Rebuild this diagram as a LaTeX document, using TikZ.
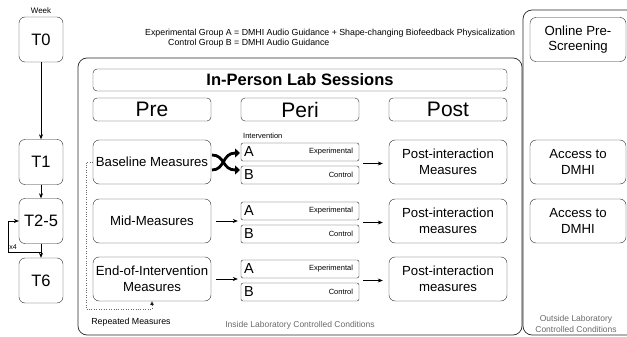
\documentclass[tikz,border=0pt]{standalone}
\usepackage{fontspec}
\setmainfont{Liberation Sans}
\usepackage{xcolor}
\usetikzlibrary{arrows.meta,calc}
\definecolor{boxline}{RGB}{40,40,40}
\definecolor{notegray}{RGB}{105,105,105}

\tikzset{
  region/.style={draw=boxline, rounded corners=9pt, line width=0.7pt},
  tbox/.style={draw=boxline, rounded corners=6pt, minimum width=44pt, minimum height=45pt, inner sep=0pt, font=\fontsize{16.5}{18}\selectfont},
  hbox/.style={draw=boxline, rounded corners=4pt, minimum width=414pt, minimum height=22pt, inner sep=0pt, font=\fontsize{16.5}{18}\selectfont\bfseries},
  phase/.style={draw=boxline, rounded corners=4pt, minimum width=118pt, minimum height=23pt, inner sep=0pt, font=\fontsize{21}{22}\selectfont},
  mbox/.style={draw=boxline, rounded corners=6pt, minimum width=118pt, minimum height=44pt, inner sep=0pt, align=center, font=\fontsize{13.2}{15.5}\selectfont},
  sbox/.style={mbox, minimum width=96pt},
  abbox/.style={draw=boxline, rounded corners=2pt, minimum height=18pt, text width=112pt, inner xsep=3pt, inner ysep=0pt, align=left, font=\fontsize{14.5}{15}\selectfont},
  grp/.style={anchor=east, inner sep=0pt, font=\fontsize{7.5}{8}\selectfont},
  tag/.style={inner sep=0pt, font=\fontsize{8.8}{10}\selectfont},
  note/.style={inner sep=0pt, text=notegray, align=center, font=\fontsize{8.5}{11}\selectfont},
  arr/.style={-{Stealth[length=5pt,width=4pt]}, line width=0.6pt},
  rep/.style={dotted, draw=notegray, line width=0.45pt, -{Triangle[length=4pt,width=4pt,fill=black]}},
  shuf/.style={line width=2.8pt, -{Triangle[length=5pt,width=9pt]}}
}

\begin{document}
\begin{tikzpicture}[x=1pt,y=-1pt]
\useasboundingbox (0,0) rectangle (627,337);

% Regions: inside and outside the lab
\draw[region] (78,58) rectangle (522,335);
\draw[region] (523,10) rectangle (660,335);
\node[note] (inside) at (300,325) {Inside Laboratory Controlled Conditions};
\node[note] (outside) at (576,323.5) {Outside Laboratory\\Controlled Conditions};

% Group legend
\node[tag, anchor=north west] (legend) at (145,28.5) {\begin{tabular}{@{}r@{ = }l@{}}
Experimental Group A & DMHI Audio Guidance + Shape-changing Biofeedback Physicalization\\
Control Group B & DMHI Audio Guidance
\end{tabular}};

% Timeline of weeks
\node[tag, font=\fontsize{8}{10}\selectfont] (week) at (41,11) {Week};
\node[tbox] (t0) at (41,39.5) {T0};
\node[tbox] (t1) at (41,162) {T1};
\node[tbox] (t25) at (41,221) {T2-5};
\node[tbox] (t6) at (41,280.5) {T6};
\draw[arr] (t0) -- (t1);
\draw[arr] (t1) -- (t25);
\draw[arr] (t25) -- (t6);
\coordinate (loopstart) at (41,252);
\draw[arr, line width=0.5pt] (loopstart) -- (8,252) -- (8,221) -- (t25.west);
\node[tag, font=\fontsize{7}{8}\selectfont] (times) at (13,247) {x4};

% Lab sessions header
\node[hbox] (lab) at (300,80) {In-Person Lab Sessions};
\node[phase] (pre) at (152,109.5) {Pre};
\node[phase] (peri) at (300,109.5) {Peri};
\node[phase] (post) at (448,109.5) {Post};

% Pre: measures
\node[mbox] (base) at (152,162) {Baseline Measures};
\node[mbox] (mid) at (152,221) {Mid-Measures};
\node[mbox] (endm) at (152,279) {End-of-Intervention\\Measures};

% Peri: intervention groups
\node[tag, anchor=west, font=\fontsize{7.5}{8}\selectfont] (interv) at (243,136) {Intervention};
\node[abbox] (a1) at (300,152) {A};
\node[abbox] (b1) at (300,175) {B};
\node[abbox] (a2) at (300,211) {A};
\node[abbox] (b2) at (300,234) {B};
\node[abbox] (a3) at (300,269) {A};
\node[abbox] (b3) at (300,292) {B};
\node[grp] (a1g) at ([xshift=-6pt]a1.east) {Experimental};
\node[grp] (b1g) at ([xshift=-6pt]b1.east) {Control};
\node[grp] (a2g) at ([xshift=-6pt]a2.east) {Experimental};
\node[grp] (b2g) at ([xshift=-6pt]b2.east) {Control};
\node[grp] (a3g) at ([xshift=-6pt]a3.east) {Experimental};
\node[grp] (b3g) at ([xshift=-6pt]b3.east) {Control};
\coordinate (gap1) at ($(a1.south east)!.5!(b1.north east)$);
\coordinate (gap2) at ($(a2.south east)!.5!(b2.north east)$);
\coordinate (gap3) at ($(a3.south east)!.5!(b3.north east)$);

% Post: measures
\node[mbox] (post1) at (448,162) {Post-interaction\\Measures};
\node[mbox] (post2) at (448,221) {Post-interaction\\measures};
\node[mbox] (post3) at (448,279) {Post-interaction\\measures};

% Outside the lab
\node[sbox] (screen) at (578,39.5) {Online Pre-\\Screening};
\node[sbox] (access1) at (578,162) {Access to\\DMHI};
\node[sbox] (access2) at (578,221) {Access to\\DMHI};

% Randomisation icon
\draw[shuf] (212,155) .. controls (225,155) and (222,170) .. (240,170);
\draw[shuf] (212,170) .. controls (225,170) and (222,153) .. (240,153);

% Arrows pre -> peri -> post
\draw[arr] ([xshift=5pt]mid.east) -- ([xshift=-3pt]mid.east -| a2.west);
\draw[arr] ([xshift=5pt]endm.east) -- ([xshift=-3pt]endm.east -| a3.west);
\draw[arr] ([xshift=4pt]gap1) -- ([xshift=-6pt]gap1 -| post1.west);
\draw[arr] ([xshift=4pt]gap2) -- ([xshift=-6pt]gap2 -| post2.west);
\draw[arr] ([xshift=4pt]gap3) -- ([xshift=-6pt]gap3 -| post3.west);

% Repeated measures
\draw[rep] (base.west) -| (86,309) -| (endm.south);
\node[tag] (repeat) at (131,322) {Repeated Measures};
\end{tikzpicture}
\end{document}
